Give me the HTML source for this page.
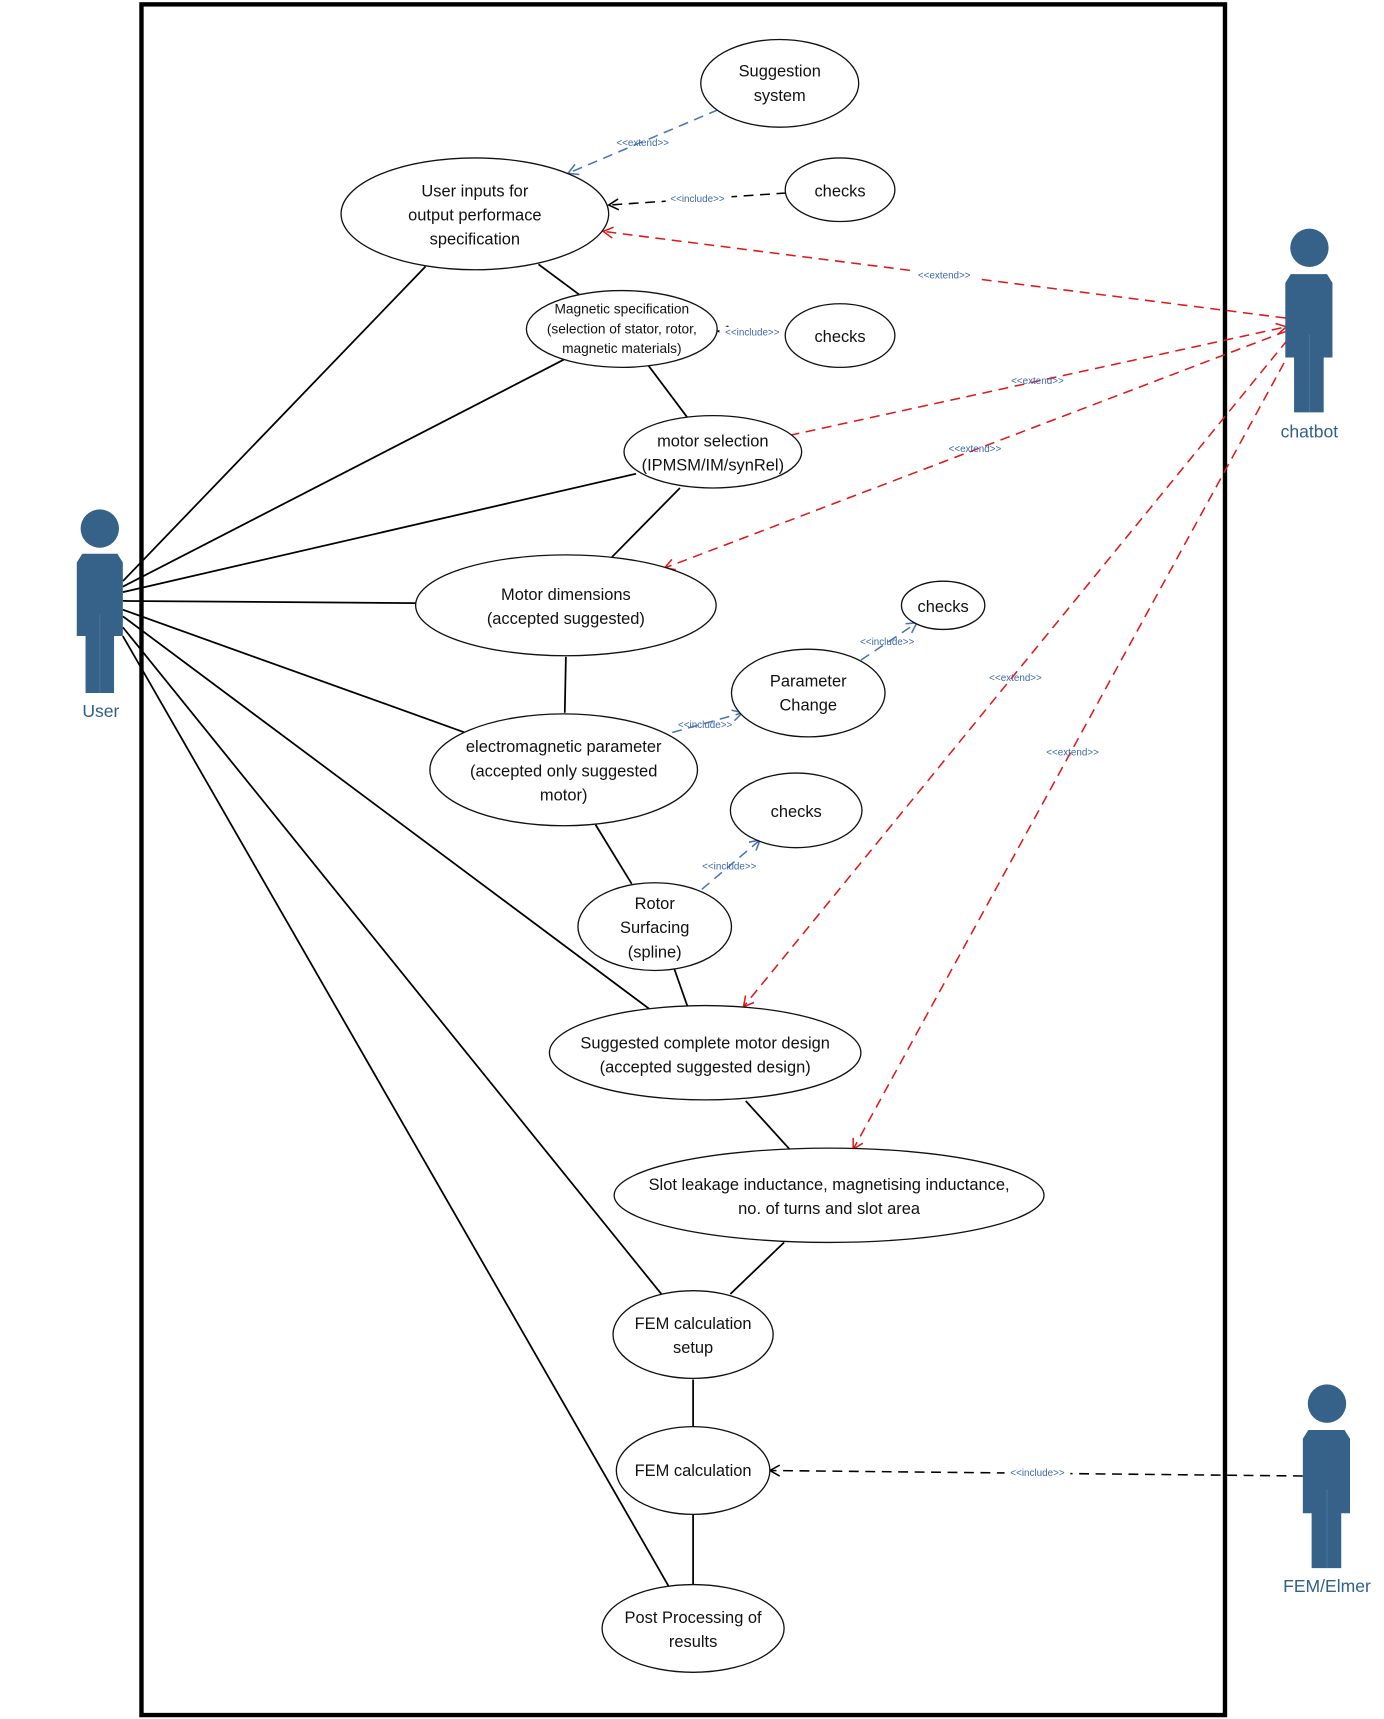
<!DOCTYPE html>
<html><head><meta charset="utf-8"><style>
html,body{margin:0;padding:0;background:#fff;}
svg{display:block;}
text{font-family:"Liberation Sans",sans-serif;fill:#111;}
.m{font-size:15px;text-anchor:middle;}
.s{font-size:12.5px;text-anchor:middle;}
.l{font-size:9px;fill:#3e68a8;text-anchor:middle;}
.a{font-size:16px;fill:#2f5f8a;text-anchor:middle;}
ellipse{fill:#fff;stroke:#111;stroke-width:1.2;}
.k{stroke:#000;stroke-width:1.6;fill:none;}
.r{stroke:#e01818;stroke-width:1.4;stroke-dasharray:9 6;fill:none;}
.b{stroke:#4a74b4;stroke-width:1.4;stroke-dasharray:9 6;fill:none;}
.d{stroke:#000;stroke-width:1.4;stroke-dasharray:9 6;fill:none;}
</style></head><body>
<svg width="1384" height="1719" viewBox="0 0 1262 1567.6" preserveAspectRatio="none">
<defs>
<marker id="ar" markerWidth="12" markerHeight="12" refX="10" refY="6" orient="auto" markerUnits="userSpaceOnUse"><path d="M1,1 L10,6 L1,11" fill="none" stroke="#e01818" stroke-width="1.4"/></marker>
<marker id="ab" markerWidth="12" markerHeight="12" refX="10" refY="6" orient="auto" markerUnits="userSpaceOnUse"><path d="M1,1 L10,6 L1,11" fill="none" stroke="#4a74b4" stroke-width="1.4"/></marker>
<marker id="ak" markerWidth="12" markerHeight="12" refX="10" refY="6" orient="auto" markerUnits="userSpaceOnUse"><path d="M1,1 L10,6 L1,11" fill="none" stroke="#000" stroke-width="1.4"/></marker>
</defs>
<rect x="129" y="4" width="988" height="1560" fill="none" stroke="#000" stroke-width="4"/>

<!-- user lines -->
<g class="k">
<line x1="112" y1="530" x2="388" y2="243"/>
<line x1="112" y1="535" x2="514" y2="328"/>
<line x1="112" y1="540" x2="580" y2="432"/>
<line x1="112" y1="548" x2="380" y2="550"/>
<line x1="112" y1="556" x2="424" y2="668"/>
<line x1="112" y1="562" x2="592" y2="920"/>
<line x1="112" y1="572" x2="603" y2="1180"/>
<line x1="112" y1="580" x2="610" y2="1447"/>
<line x1="491" y1="241" x2="530" y2="270"/>
<line x1="591" y1="333" x2="627" y2="381"/>
<line x1="620" y1="445" x2="558" y2="508"/>
<line x1="516" y1="599" x2="515" y2="650"/>
<line x1="543" y1="752" x2="576" y2="806"/>
<line x1="615" y1="884" x2="627" y2="918"/>
<line x1="680" y1="1004" x2="720" y2="1048"/>
<line x1="715" y1="1133" x2="666" y2="1180"/>
<line x1="632" y1="1258" x2="632" y2="1301"/>
<line x1="632" y1="1381" x2="632" y2="1445"/>
</g>

<!-- dashed -->
<line class="b" x1="655" y1="100" x2="518" y2="158" marker-end="url(#ab)"/>
<line class="d" x1="717" y1="176" x2="555" y2="187" marker-end="url(#ak)"/>
<line class="r" x1="1172" y1="290" x2="550" y2="211" marker-start="url(#ar)" marker-end="url(#ar)"/>
<line class="d" x1="716" y1="304" x2="655" y2="302" marker-end="url(#ak)"/>
<line class="r" x1="720" y1="397" x2="1173" y2="298" marker-end="url(#ar)"/>
<line class="r" x1="1173" y1="302" x2="606" y2="518" marker-end="url(#ar)"/>
<line class="r" x1="1174" y1="310" x2="678" y2="918" marker-end="url(#ar)"/>
<line class="r" x1="1178" y1="318" x2="778" y2="1048" marker-end="url(#ar)"/>
<line class="b" x1="613" y1="668" x2="677" y2="650" marker-end="url(#ab)"/>
<line class="b" x1="785" y1="602" x2="836" y2="568" marker-end="url(#ab)"/>
<line class="b" x1="640" y1="811" x2="693" y2="766" marker-end="url(#ab)"/>
<line class="d" x1="1188" y1="1346" x2="702" y2="1341" marker-end="url(#ak)"/>

<!-- labels with white bg -->
<g>
<text class="l" x="586" y="133">&lt;&lt;extend&gt;&gt;</text>
<rect x="607" y="176" width="60" height="10" fill="#fff"/><text class="l" x="636" y="184">&lt;&lt;include&gt;&gt;</text>
<rect x="832" y="245" width="58" height="10" fill="#fff"/><text class="l" x="861" y="254">&lt;&lt;extend&gt;&gt;</text>
<rect x="656" y="298" width="60" height="10" fill="#fff"/><text class="l" x="686" y="306">&lt;&lt;include&gt;&gt;</text>
<text class="l" x="946" y="350">&lt;&lt;extend&gt;&gt;</text>
<text class="l" x="889" y="412">&lt;&lt;extend&gt;&gt;</text>
<text class="l" x="926" y="621">&lt;&lt;extend&gt;&gt;</text>
<text class="l" x="978" y="689">&lt;&lt;extend&gt;&gt;</text>
<text class="l" x="643" y="664">&lt;&lt;include&gt;&gt;</text>
<text class="l" x="809" y="588">&lt;&lt;include&gt;&gt;</text>
<text class="l" x="665" y="793">&lt;&lt;include&gt;&gt;</text>
<rect x="916" y="1338" width="60" height="10" fill="#fff"/><text class="l" x="946" y="1346">&lt;&lt;include&gt;&gt;</text>
</g>

<!-- ellipses -->
<ellipse cx="711" cy="76" rx="72" ry="40"/>
<text class="m" x="711" y="70">Suggestion</text><text class="m" x="711" y="92">system</text>
<ellipse cx="433" cy="195" rx="122" ry="51"/>
<text class="m" x="433" y="179">User inputs for</text><text class="m" x="433" y="201">output performace</text><text class="m" x="433" y="223">specification</text>
<ellipse cx="766" cy="173" rx="50" ry="29"/><text class="m" x="766" y="179">checks</text>
<ellipse cx="567" cy="300" rx="87" ry="35"/>
<text class="s" x="567" y="286">Magnetic specification</text><text class="s" x="567" y="304">(selection of stator, rotor,</text><text class="s" x="567" y="322">magnetic materials)</text>
<ellipse cx="766" cy="306" rx="50" ry="29"/><text class="m" x="766" y="312">checks</text>
<ellipse cx="650" cy="412" rx="81" ry="33"/>
<text class="m" x="650" y="407">motor selection</text><text class="m" x="650" y="429">(IPMSM/IM/synRel)</text>
<ellipse cx="516" cy="552" rx="137" ry="46"/>
<text class="m" x="516" y="547">Motor dimensions</text><text class="m" x="516" y="569">(accepted suggested)</text>
<ellipse cx="860" cy="552" rx="38" ry="22"/><text class="m" x="860" y="558">checks</text>
<ellipse cx="737" cy="632" rx="70" ry="40"/>
<text class="m" x="737" y="626">Parameter</text><text class="m" x="737" y="648">Change</text>
<ellipse cx="514" cy="702" rx="122" ry="51"/>
<text class="m" x="514" y="686">electromagnetic parameter</text><text class="m" x="514" y="708">(accepted only suggested</text><text class="m" x="514" y="730">motor)</text>
<ellipse cx="726" cy="739" rx="60" ry="34"/><text class="m" x="726" y="745">checks</text>
<ellipse cx="597" cy="845" rx="70" ry="40"/>
<text class="m" x="597" y="829">Rotor</text><text class="m" x="597" y="851">Surfacing</text><text class="m" x="597" y="873">(spline)</text>
<ellipse cx="643" cy="960" rx="142" ry="43"/>
<text class="m" x="643" y="956">Suggested complete motor design</text><text class="m" x="643" y="978">(accepted suggested design)</text>
<ellipse cx="756" cy="1090" rx="196" ry="43"/>
<text class="m" x="756" y="1085">Slot leakage inductance, magnetising inductance,</text><text class="m" x="756" y="1107">no. of turns and slot area</text>
<ellipse cx="632" cy="1217" rx="73" ry="40"/>
<text class="m" x="632" y="1212">FEM calculation</text><text class="m" x="632" y="1234">setup</text>
<ellipse cx="632" cy="1341" rx="70" ry="40"/><text class="m" x="632" y="1346">FEM calculation</text>
<ellipse cx="632" cy="1485" rx="83" ry="40"/>
<text class="m" x="632" y="1480">Post Processing of</text><text class="m" x="632" y="1502">results</text>

<!-- actors -->
<g fill="#366188">
<circle cx="91" cy="482" r="17.5"/>
<path d="M75,505 H107 L112,513 V580 H104 V632 H78 V580 H70 V513 Z"/>
<circle cx="1194" cy="226" r="17.5"/>
<path d="M1177,250 H1210 L1215,258 V326 H1207 V376 H1180 V326 H1172 V258 Z"/>
<circle cx="1210" cy="1280" r="17.5"/>
<path d="M1193,1304 H1226 L1231,1312 V1380 H1223 V1430 H1196 V1380 H1188 V1312 Z"/>
</g>
<g stroke="#4d77a0" stroke-width="0.8">
<line x1="91" y1="560" x2="91" y2="632"/><line x1="1194" y1="305" x2="1194" y2="376"/><line x1="1210" y1="1358" x2="1210" y2="1430"/>
</g>
<text class="a" x="92" y="654">User</text>
<text class="a" x="1194" y="399">chatbot</text>
<text class="a" x="1210" y="1452">FEM/Elmer</text>
</svg>
</body></html>
